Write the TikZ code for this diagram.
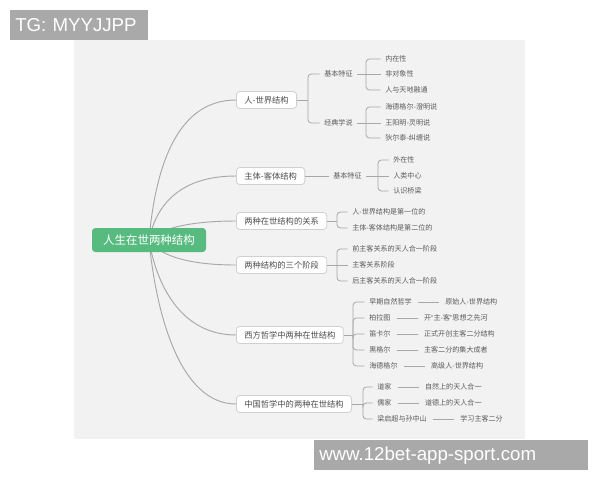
\documentclass[tikz,border=0pt]{standalone}
\usepackage{fontspec}
\setmainfont{Noto Sans CJK SC}
\newfontfamily\wmfont{Liberation Sans}
\usetikzlibrary{positioning}
\definecolor{panel}{HTML}{F2F2F2}
\definecolor{wmgray}{HTML}{A9A9A9}
\definecolor{lgray}{HTML}{A8A8A8}
\definecolor{bord}{HTML}{D0D0D0}
\definecolor{txt}{HTML}{5A5A5A}
\definecolor{rootgreen}{HTML}{57BB80}
\begin{document}
\begin{tikzpicture}[x=0.75pt,y=-0.75pt,
 rootbox/.style={fill=rootgreen, rounded corners=2.5pt, minimum width=85.5pt, minimum height=18pt, text=white, font=\fontsize{8.6}{10}\selectfont, inner sep=0pt},
 topic/.style={draw=bord, fill=white, line width=0.6pt, rounded corners=2.5pt, minimum height=12.75pt, inner xsep=6pt, inner ysep=0pt, text=txt!85!black, font=\fontsize{6.2}{7}\selectfont, anchor=west},
 leaf/.style={inner xsep=3.4pt, inner ysep=1pt, text=txt, font=\fontsize{5.3}{6}\selectfont, anchor=west},
 curve/.style={draw=lgray, line width=0.7pt},
 bline/.style={draw=lgray, line width=0.6pt, rounded corners=2.5pt},
 pline/.style={draw=lgray, line width=0.6pt, shorten <=1pt, shorten >=1pt},
 wmbox/.style={fill=wmgray, text=white, font=\wmfont\fontsize{14}{16}\selectfont, anchor=north west, inner xsep=3.75pt, inner ysep=0pt, minimum height=22.5pt, align=left},
]
\useasboundingbox (0,0) rectangle (600,480);
\fill[white] (0,0) rectangle (600,480);
\fill[panel] (74,40) rectangle (525,439);

% watermarks
\node[wmbox, text width=96pt] (tg) at (10,10) {TG: MYYJJPP};
\node[wmbox, text width=198pt] (site) at (314,440) {www.12bet-app-sport.com};

% root and topics
\coordinate (rc) at (149,240);
\node[topic] (n1) at (236,100) {人-世界结构};
\node[topic] (n2) at (236,176) {主体-客体结构};
\node[topic] (n3) at (236,221) {两种在世结构的关系};
\node[topic] (n4) at (236,265) {两种结构的三个阶段};
\node[topic] (n5) at (236,335) {西方哲学中两种在世结构};
\node[topic] (n6) at (236,404) {中国哲学中的两种在世结构};

\draw[curve] (rc) .. controls (156,160) and (180,100) .. (n1.west);
\draw[curve] (rc) .. controls (156,205) and (180,176) .. (n2.west);
\draw[curve] (rc) .. controls (156,232) and (180,221) .. (n3.west);
\draw[curve] (rc) .. controls (156,252) and (180,265) .. (n4.west);
\draw[curve] (rc) .. controls (156,283) and (180,335) .. (n5.west);
\draw[curve] (rc) .. controls (156,314) and (180,404) .. (n6.west);

\node[rootbox] (root) at (rc) {人生在世两种结构};

% branch 1
\node[leaf] (a1) at (319.5,74) {基本特征};
\node[leaf] (a2) at (319.5,123) {经典学说};
\coordinate (s1) at (308,100);
\draw[bline] (n1.east) -- (s1);
\draw[bline] (s1) |- (a1.west);
\draw[bline] (s1) |- (a2.west);

\node[leaf] (a11) at (380.5,59) {内在性};
\node[leaf] (a12) at (380.5,74) {非对象性};
\node[leaf] (a13) at (380.5,90) {人与天地融通};
\coordinate (s11) at (366,74);
\draw[bline] (a1.east) -- (s11);
\draw[bline] (s11) |- (a11.west);
\draw[bline] (s11) -- (a12.west);
\draw[bline] (s11) |- (a13.west);

\node[leaf] (a21) at (380.5,107) {海德格尔-澄明说};
\node[leaf] (a22) at (380.5,123) {王阳明-灵明说};
\node[leaf] (a23) at (380.5,138) {狄尔泰-纠缠说};
\coordinate (s12) at (366,123);
\draw[bline] (a2.east) -- (s12);
\draw[bline] (s12) |- (a21.west);
\draw[bline] (s12) -- (a22.west);
\draw[bline] (s12) |- (a23.west);

% branch 2
\node[leaf] (b1) at (328.5,176) {基本特征};
\draw[bline] (n2.east) -- (b1.west);
\node[leaf] (b11) at (388.5,160) {外在性};
\node[leaf] (b12) at (388.5,176) {人类中心};
\node[leaf] (b13) at (388.5,191) {认识桥梁};
\coordinate (s2) at (378,176);
\draw[bline] (b1.east) -- (s2);
\draw[bline] (s2) |- (b11.west);
\draw[bline] (s2) -- (b12.west);
\draw[bline] (s2) |- (b13.west);

% branch 3
\node[leaf] (c1) at (347.5,212) {人-世界结构是第一位的};
\node[leaf] (c2) at (347.5,228) {主体-客体结构是第二位的};
\coordinate (s3) at (337,221);
\draw[bline] (n3.east) -- (s3);
\draw[bline] (s3) |- (c1.west);
\draw[bline] (s3) |- (c2.west);

% branch 4
\node[leaf] (d1) at (347.5,249) {前主客关系的天人合一阶段};
\node[leaf] (d2) at (347.5,265) {主客关系阶段};
\node[leaf] (d3) at (347.5,281) {后主客关系的天人合一阶段};
\coordinate (s4) at (337,265);
\draw[bline] (n4.east) -- (s4);
\draw[bline] (s4) |- (d1.west);
\draw[bline] (s4) -- (d2.west);
\draw[bline] (s4) |- (d3.west);

% branch 5
\node[leaf] (e1) at (364.5,302) {早期自然哲学};
\node[leaf] (e2) at (364.5,318) {柏拉图};
\node[leaf] (e3) at (364.5,334) {笛卡尔};
\node[leaf] (e4) at (364.5,350) {黑格尔};
\node[leaf] (e5) at (364.5,366) {海德格尔};
\coordinate (s5) at (353,335);
\draw[bline] (n5.east) -- (s5);
\draw[bline] (s5) |- (e1.west);
\draw[bline] (s5) |- (e2.west);
\draw[bline] (s5) |- (e3.west);
\draw[bline] (s5) |- (e4.west);
\draw[bline] (s5) |- (e5.west);
\node[leaf, right=18pt of e1] (f1) {原始人-世界结构};
\node[leaf, right=18pt of e2] (f2) {开{\wmfont “}主-客{\wmfont ”}思想之先河};
\node[leaf, right=18pt of e3] (f3) {正式开创主客二分结构};
\node[leaf, right=18pt of e4] (f4) {主客二分的集大成者};
\node[leaf, right=18pt of e5] (f5) {高级人-世界结构};
\draw[pline] (e1) -- (f1);
\draw[pline] (e2) -- (f2);
\draw[pline] (e3) -- (f3);
\draw[pline] (e4) -- (f4);
\draw[pline] (e5) -- (f5);

% branch 6
\node[leaf] (g1) at (372.5,387) {道家};
\node[leaf] (g2) at (372.5,403) {儒家};
\node[leaf] (g3) at (372.5,419) {梁启超与孙中山};
\coordinate (s6) at (363,404);
\draw[bline] (n6.east) -- (s6);
\draw[bline] (s6) |- (g1.west);
\draw[bline] (s6) |- (g2.west);
\draw[bline] (s6) |- (g3.west);
\node[leaf, right=18pt of g1] (h1) {自然上的天人合一};
\node[leaf, right=18pt of g2] (h2) {道德上的天人合一};
\node[leaf, right=18pt of g3] (h3) {学习主客二分};
\draw[pline] (g1) -- (h1);
\draw[pline] (g2) -- (h2);
\draw[pline] (g3) -- (h3);
\end{tikzpicture}
\end{document}
